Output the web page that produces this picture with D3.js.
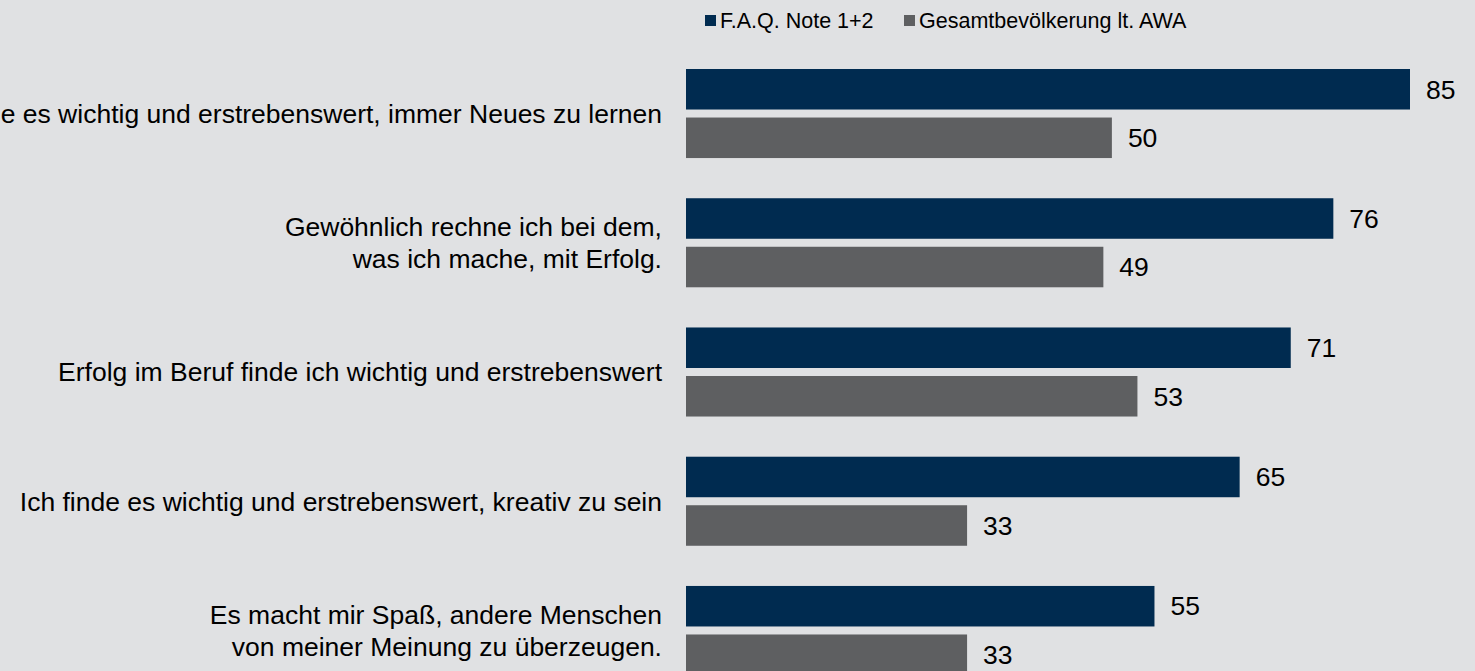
<!DOCTYPE html>
<html>
<head>
<meta charset="utf-8">
<script src="https://cdn.jsdelivr.net/npm/d3@7"></script>
<style>
  body { margin: 0; background: #e0e1e3; overflow: hidden; }
  svg { display: block; font-family: "Liberation Sans", Arial, sans-serif; }
</style>
</head>
<body>
<div id="main"></div>
<script>
const w = 1475, h = 671;

// data
const categories = [
  ['Ich finde es wichtig und erstrebenswert, immer Neues zu lernen'],
  ['Gewöhnlich rechne ich bei dem,', 'was ich mache, mit Erfolg.'],
  ['Erfolg im Beruf finde ich wichtig und erstrebenswert'],
  ['Ich finde es wichtig und erstrebenswert, kreativ zu sein'],
  ['Es macht mir Spaß, andere Menschen', 'von meiner Meinung zu überzeugen.']
];
const seriesNames = ['F.A.Q. Note 1+2', 'Gesamtbevölkerung lt. AWA'];
const faqValues = [85, 76, 71, 65, 55];
const awaValues = [50, 49, 53, 33, 33];
const colors = ['#002b50', '#5e5f61'];

const svg = d3.select('#main')
  .append('svg')
  .attr('width', w)
  .attr('height', h);

const x = d3.scaleLinear()
  .domain([0, 85])
  .range([686, 1410]);

const y0 = d3.scaleBand()
  .domain(d3.range(categories.length))
  .range([69, 675])
  .paddingInner(0.311)
  .paddingOuter(0);

const y1 = d3.scaleBand()
  .domain(d3.range(seriesNames.length))
  .range([0, y0.bandwidth()])
  .paddingInner(0.165);

const rows = categories.map((c, i) => ({ label: c, values: [faqValues[i], awaValues[i]] }));

const groups = svg.selectAll('g.group')
  .data(rows)
  .enter()
  .append('g')
  .attr('class', 'group')
  .attr('transform', (d, i) => 'translate(0,' + y0(i) + ')');

groups.selectAll('rect')
  .data(d => d.values)
  .enter()
  .append('rect')
  .attr('x', x(0))
  .attr('y', (d, j) => y1(j))
  .attr('width', d => x(d) - x(0))
  .attr('height', y1.bandwidth())
  .attr('fill', (d, j) => colors[j]);

groups.selectAll('text.val')
  .data(d => d.values)
  .enter()
  .append('text')
  .attr('class', 'val')
  .attr('x', d => x(d) + 16)
  .attr('y', (d, j) => y1(j) + y1.bandwidth() / 2)
  .attr('dy', '0.35em')
  .attr('font-size', 26.5)
  .attr('fill', '#000')
  .text(d => d);

// category labels, right aligned
const labels = groups.append('text')
  .attr('text-anchor', 'end')
  .attr('font-size', 26.5)
  .attr('fill', '#000');

labels.each(function(d) {
  const t = d3.select(this);
  const n = d.label.length, lh = 32;
  const mid = y0.bandwidth() / 2;
  d.label.forEach((line, k) => {
    t.append('tspan')
      .attr('x', 662)
      .attr('y', mid + (k - (n - 1) / 2) * lh)
      .attr('dy', '0.35em')
      .text(line);
  });
});

// legend
const legendX = [705, 904];
const legend = svg.selectAll('g.legend')
  .data(seriesNames)
  .enter()
  .append('g')
  .attr('class', 'legend')
  .attr('transform', (d, i) => 'translate(' + legendX[i] + ',20)');

legend.append('rect')
  .attr('x', 0)
  .attr('y', -5)
  .attr('width', 11)
  .attr('height', 11)
  .attr('fill', (d, i) => colors[i]);

legend.append('text')
  .attr('x', 15)
  .attr('dy', '0.35em')
  .attr('font-size', 21.5)
  .attr('fill', '#000')
  .text(d => d);
</script>
</body>
</html>
